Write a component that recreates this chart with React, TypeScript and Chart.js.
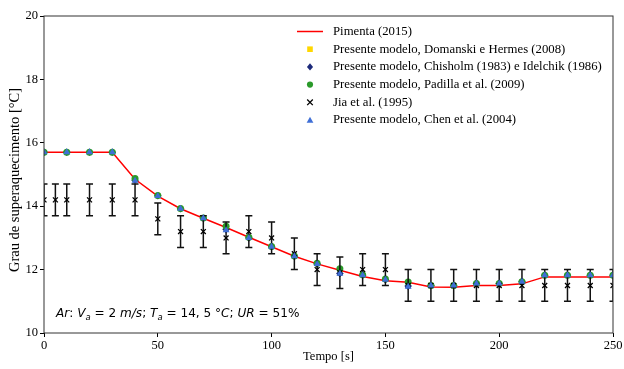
import React, { useEffect, useRef } from "react";
import { Chart, registerables } from "chart.js";
Chart.register(...registerables);

// ---------- data ----------
const modelTimes = [0, 10, 20, 30, 40, 50, 60, 70, 80, 90, 100, 110, 120, 130, 140, 150, 160, 170, 180, 190, 200, 210, 220, 230, 240, 250];
const pimenta = [15.7, 15.7, 15.7, 15.7, 14.85, 14.32, 13.92, 13.62, 13.33, 13.02, 12.72, 12.42, 12.18, 11.98, 11.78, 11.65, 11.6, 11.45, 11.44, 11.5, 11.5, 11.55, 11.77, 11.77, 11.77, 11.77];
const domanski = [15.7, 15.7, 15.7, 15.7, 14.82, 14.33, 13.93, 13.63, 13.3, 13.02, 12.73, 12.43, 12.2, 11.92, 11.83, 11.69, 11.5, 11.52, 11.5, 11.56, 11.56, 11.63, 11.82, 11.82, 11.82, 11.82];
const chisholm = [15.7, 15.7, 15.7, 15.7, 14.82, 14.33, 13.92, 13.62, 13.27, 13.0, 12.72, 12.42, 12.18, 11.88, 11.82, 11.68, 11.48, 11.5, 11.5, 11.56, 11.56, 11.62, 11.82, 11.82, 11.82, 11.82];
const padilla = [15.7, 15.7, 15.7, 15.7, 14.87, 14.34, 13.93, 13.63, 13.37, 13.02, 12.73, 12.43, 12.2, 12.03, 11.84, 11.7, 11.61, 11.5, 11.5, 11.56, 11.56, 11.62, 11.82, 11.82, 11.82, 11.82];
const chen = [15.7, 15.7, 15.7, 15.7, 14.8, 14.32, 13.92, 13.62, 13.24, 13.0, 12.72, 12.42, 12.18, 11.87, 11.82, 11.68, 11.46, 11.5, 11.5, 11.56, 11.56, 11.62, 11.82, 11.82, 11.82, 11.82];
const jiaTimes = [0, 5, 10, 20, 30, 40, 50, 60, 70, 80, 90, 100, 110, 120, 130, 140, 150, 160, 170, 180, 190, 200, 210, 220, 230, 240, 250];
const jiaValues = [14.2, 14.2, 14.2, 14.2, 14.2, 14.2, 13.6, 13.2, 13.2, 13.0, 13.2, 13.0, 12.5, 12.0, 11.9, 12.0, 12.0, 11.5, 11.5, 11.5, 11.5, 11.5, 11.5, 11.5, 11.5, 11.5, 11.5];
const jiaErrors = [0.5, 0.5, 0.5, 0.5, 0.5, 0.5, 0.5, 0.5, 0.5, 0.5, 0.5, 0.5, 0.5, 0.5, 0.5, 0.5, 0.5, 0.5, 0.5, 0.5, 0.5, 0.5, 0.5, 0.5, 0.5, 0.5, 0.5];
const xTicks = [0, 50, 100, 150, 200, 250];
const yTicks = [10, 12, 14, 16, 18, 20];

const labels = {
  pimenta: "Pimenta (2015)",
  domanski: "Presente modelo, Domanski e Hermes (2008)",
  chisholm: "Presente modelo, Chisholm (1983) e Idelchik (1986)",
  padilla: "Presente modelo, Padilla et al. (2009)",
  jia: "Jia et al. (1995)",
  chen: "Presente modelo, Chen et al. (2004)",
};
const xTitle = "Tempo [s]";
const yTitle = "Grau de superaquecimento [°C]";

const RED = "#ff0000";
const YELLOW = "#ffd700";
const NAVY = "#1c2a7a";
const GREEN = "#2a9a2a";
const BLACK = "#000000";
const BLUE = "#3f6fd6";
const SERIF = "'Liberation Serif', 'Times New Roman', serif";

const pts = (xs: number[], ys: number[]) => xs.map((x, i) => ({ x, y: ys[i] }));

function drawMarker(ctx: CanvasRenderingContext2D, type: string, x: number, y: number, color: string, s: number) {
  ctx.save();
  ctx.fillStyle = color;
  ctx.strokeStyle = color;
  ctx.beginPath();
  if (type === "rect") {
    ctx.fillRect(x - s, y - s, 2 * s, 2 * s);
  } else if (type === "rectRot") {
    ctx.moveTo(x, y - s * 1.3);
    ctx.lineTo(x + s * 1.1, y);
    ctx.lineTo(x, y + s * 1.3);
    ctx.lineTo(x - s * 1.1, y);
    ctx.closePath();
    ctx.fill();
  } else if (type === "circle") {
    ctx.arc(x, y, s * 1.1, 0, Math.PI * 2);
    ctx.fill();
  } else if (type === "crossRot") {
    ctx.lineWidth = 1.3;
    ctx.moveTo(x - s, y - s);
    ctx.lineTo(x + s, y + s);
    ctx.moveTo(x + s, y - s);
    ctx.lineTo(x - s, y + s);
    ctx.stroke();
  } else if (type === "triangle") {
    ctx.moveTo(x, y - s * 1.2);
    ctx.lineTo(x + s * 1.2, y + s * 1.0);
    ctx.lineTo(x - s * 1.2, y + s * 1.0);
    ctx.closePath();
    ctx.fill();
  } else if (type === "line") {
    ctx.lineWidth = 1.5;
    ctx.moveTo(x - 13, y);
    ctx.lineTo(x + 13, y);
    ctx.stroke();
  }
  ctx.restore();
}

const JIA_INDEX = 4;

const decoPlugin = {
  id: "deco",
  beforeDatasetDraw(chart: any, args: any) {
    if (args.index !== JIA_INDEX) return;
    const { ctx, chartArea: a, scales } = chart;
    ctx.save();
    ctx.beginPath();
    ctx.rect(a.left, a.top, a.right - a.left, a.bottom - a.top);
    ctx.clip();
    ctx.strokeStyle = "#111";
    ctx.lineWidth = 1.5;
    jiaTimes.forEach((t, i) => {
      const x = scales.x.getPixelForValue(t);
      const y1 = scales.y.getPixelForValue(jiaValues[i] + jiaErrors[i]);
      const y2 = scales.y.getPixelForValue(jiaValues[i] - jiaErrors[i]);
      ctx.beginPath();
      ctx.moveTo(x, y1);
      ctx.lineTo(x, y2);
      ctx.moveTo(x - 3.5, y1);
      ctx.lineTo(x + 3.5, y1);
      ctx.moveTo(x - 3.5, y2);
      ctx.lineTo(x + 3.5, y2);
      ctx.stroke();
    });
    ctx.restore();
  },
  afterDraw(chart: any) {
    const { ctx, chartArea: a } = chart;
    ctx.save();
    // frame
    ctx.strokeStyle = "#333";
    ctx.lineWidth = 1;
    ctx.strokeRect(a.left, a.top, a.right - a.left, a.bottom - a.top);

    // axis titles
    ctx.fillStyle = "#000";
    ctx.textAlign = "center";
    ctx.textBaseline = "middle";
    ctx.font = `12.5px ${SERIF}`;
    ctx.fillText(xTitle, (a.left + a.right) / 2, 357);
    ctx.save();
    ctx.font = `14.5px ${SERIF}`;
    ctx.translate(15, 180);
    ctx.rotate(-Math.PI / 2);
    ctx.fillText(yTitle, 0, 0);
    ctx.restore();

    // legend
    const rows = [
      { type: "line", color: RED, label: labels.pimenta },
      { type: "rect", color: YELLOW, label: labels.domanski },
      { type: "rectRot", color: NAVY, label: labels.chisholm },
      { type: "circle", color: GREEN, label: labels.padilla },
      { type: "crossRot", color: BLACK, label: labels.jia },
      { type: "triangle", color: BLUE, label: labels.chen },
    ];
    ctx.textAlign = "left";
    ctx.font = `12.75px ${SERIF}`;
    rows.forEach((r, i) => {
      const y = 31.5 + i * 17.7;
      drawMarker(ctx, r.type, 310, y, r.color, 2.8);
      ctx.fillStyle = "#000";
      ctx.fillText(r.label, 333, y);
    });

    // annotation (math-like)
    const segs = [
      { t: "Ar", it: true },
      { t: ": ", it: false },
      { t: "V", it: true },
      { t: "a", it: true, sub: true },
      { t: " = 2 ", it: false },
      { t: "m/s", it: true },
      { t: "; ", it: false },
      { t: "T", it: true },
      { t: "a", it: true, sub: true },
      { t: " = 14, 5 °", it: false },
      { t: "C", it: true },
      { t: "; ", it: false },
      { t: "UR", it: true },
      { t: " = 51%", it: false },
    ];
    const fs = 12.1;
    let x = 56;
    const base = 317;
    ctx.textBaseline = "alphabetic";
    ctx.fillStyle = "#000";
    segs.forEach((s: any) => {
      const size = s.sub ? fs * 0.7 : fs;
      ctx.font = `${s.it ? "oblique " : ""}${size}px 'DejaVu Sans', sans-serif`;
      ctx.fillText(s.t, x, base + (s.sub ? 2.5 : 0));
      x += ctx.measureText(s.t).width;
    });
    ctx.restore();
  },
};

export default function App() {
  const ref = useRef<HTMLCanvasElement | null>(null);
  useEffect(() => {
    if (!ref.current) return;
    const scatter = (label: string, ys: number[], color: string, style: string, radius: number, order: number) => ({
      type: "scatter" as const,
      label,
      data: pts(modelTimes, ys),
      pointStyle: style,
      pointRadius: radius,
      pointBackgroundColor: color,
      pointBorderColor: color,
      pointBorderWidth: 0,
      showLine: false,
      clip: 0,
      order,
    });
    const chart = new Chart(ref.current, {
      type: "scatter",
      data: {
        datasets: [
          {
            type: "line",
            label: labels.pimenta,
            data: pts(modelTimes, pimenta),
            borderColor: RED,
            borderWidth: 1.5,
            pointRadius: 0,
            fill: false,
            tension: 0,
            clip: 0,
            order: 6,
          } as any,
          scatter(labels.domanski, domanski, YELLOW, "rect", 3.2, 5),
          scatter(labels.chisholm, chisholm, NAVY, "rectRot", 3.8, 4),
          scatter(labels.padilla, padilla, GREEN, "circle", 3.5, 3),
          {
            type: "scatter",
            label: labels.jia,
            data: pts(jiaTimes, jiaValues),
            pointStyle: "crossRot",
            pointRadius: 3.5,
            pointBorderColor: "#000",
            pointBorderWidth: 1.3,
            clip: 0,
            order: 2,
          } as any,
          scatter(labels.chen, chen, BLUE, "triangle", 4, 1),
        ],
      },
      options: {
        animation: false,
        responsive: false,
        maintainAspectRatio: false,
        layout: { padding: { left: 0, top: 16, right: 11, bottom: 0 } },
        plugins: { legend: { display: false }, tooltip: { enabled: false } },
        scales: {
          x: {
            type: "linear",
            min: 0,
            max: 250,
            afterBuildTicks: (s: any) => { s.ticks = xTicks.map((v) => ({ value: v })); },
            afterFit: (s: any) => { s.height = 36; },
            ticks: { font: { family: SERIF, size: 12.5 }, color: "#000", padding: 1, maxRotation: 0 },
            grid: { display: true, drawOnChartArea: false, drawTicks: true, tickLength: 4, color: "#000" },
            border: { display: false },
          },
          y: {
            type: "linear",
            min: 10,
            max: 20,
            afterBuildTicks: (s: any) => { s.ticks = yTicks.map((v) => ({ value: v })); },
            afterFit: (s: any) => { s.width = 44; },
            ticks: { font: { family: SERIF, size: 12.5 }, color: "#000", padding: 2 },
            grid: { display: true, drawOnChartArea: false, drawTicks: true, tickLength: 4, color: "#000" },
            border: { display: false },
          },
        },
      } as any,
      plugins: [decoPlugin],
    });
    return () => chart.destroy();
  }, []);
  return (
    <div style={{ position: "fixed", left: 0, top: 0, width: 624, height: 369, background: "#fff" }}>
      <canvas ref={ref} width={624} height={369} style={{ width: 624, height: 369, display: "block" }} />
    </div>
  );
}
